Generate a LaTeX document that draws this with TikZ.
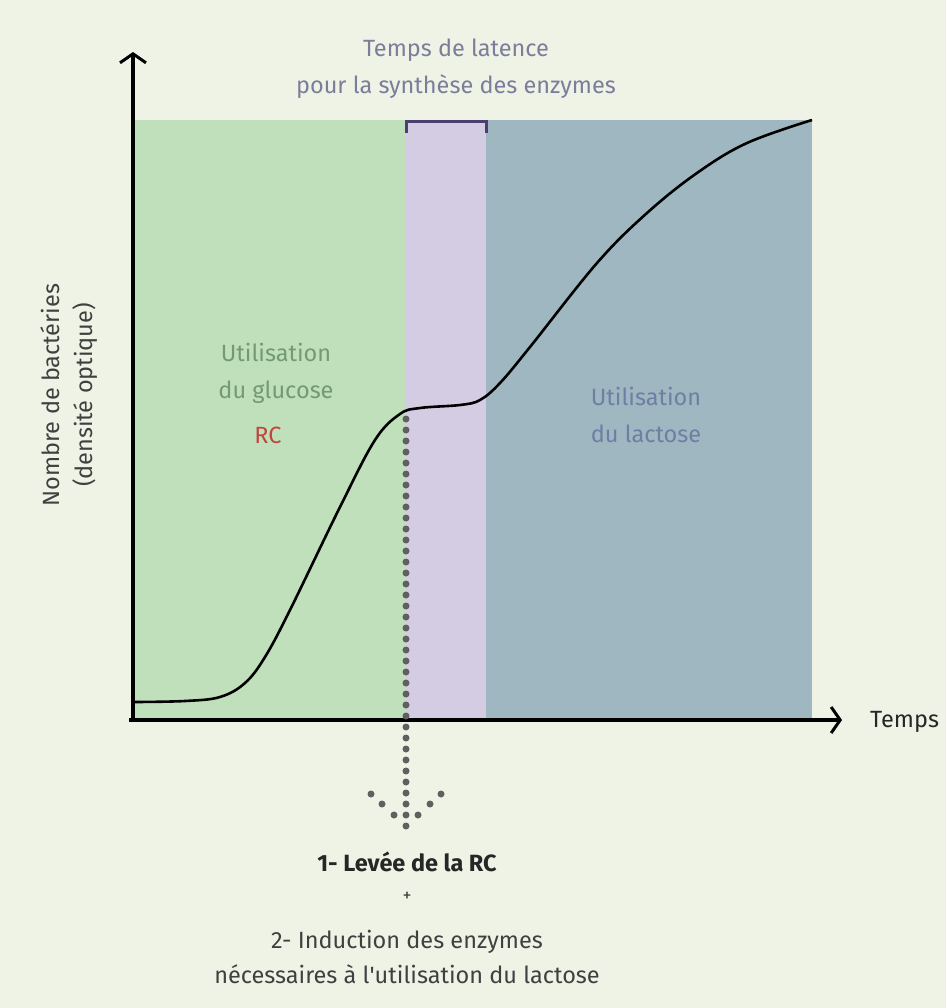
\documentclass[tikz,border=0pt]{standalone}
\usepackage{fontspec}
\setmainfont{Fira Sans}
\usepackage{tikz}
\usetikzlibrary{%
  arrows.meta,
  calc,
  positioning
}

\definecolor{bgcol}{HTML}{EEF3E6}
\definecolor{glucose}{HTML}{C0E0BC}
\definecolor{latence}{HTML}{D4CCE2}
\definecolor{lactose}{HTML}{9FB7C1}
\definecolor{bracketcol}{HTML}{4B3F72}
\definecolor{latencetxt}{HTML}{7D7D9B}
\definecolor{glucosetxt}{HTML}{739A72}
\definecolor{lactosetxt}{HTML}{6E7FA3}
\definecolor{rctxt}{HTML}{C0463C}
\definecolor{dotcol}{HTML}{606060}

\tikzset{
  lbl/.style={font=\fontsize{23.5}{37}\selectfont, align=center, inner sep=0pt},
  axis/.style={line width=4pt, -{Straight Barb[length=9pt,width=26pt,line width=3pt]}},
  dotline/.style={dotcol, line width=7pt, line cap=round, dash pattern=on 0pt off 11pt},
  dotmark/.style={fill=dotcol}
}

\begin{document}
\begin{tikzpicture}[x=1pt, y=-1pt]
  \fill [bgcol] (0,0) rectangle (946,1008) ;
  \useasboundingbox (0,0) rectangle (946,1008) ;

  % phases
  \fill [glucose] (133,120) rectangle (406,718) ;
  \fill [latence] (406,120) rectangle (486,718) ;
  \fill [lactose] (486,120) rectangle (812,718) ;

  % bracket of the lag time
  \draw [bracketcol, line width=3pt] (406,133) -- (406,121.5) -- (486,121.5) -- (486,133) ;

  % growth curve
  \draw [line width=2.6pt, line join=round] plot [smooth, tension=0.6] coordinates {
        (135,702) (185,701) (220,697) (245,683) (265,657) (290,610)
        (340,507) (375,440) (400,414) (420,408) (460,405) (480,400)
        (500,383) (530,347) (597,263) (647,213) (697,173) (747,143)
        (812,120) } ;

  \coordinate (plateau) at (406,418) ;
  \coordinate (tip) at (406,826) ;

  % axes
  \draw [axis] (133,722) -- (133,52) ;
  \draw [axis] (129,720) -- (842,720) ;

  % dotted arrow
  \draw [dotline] (tip) -- (plateau) ;
  \foreach \dx/\dy in {-35/-32, -24/-22, -12/-11, 12/-11, 24/-22, 35/-32}
    \fill [dotmark] ($(tip)+(\dx,\dy)$) circle [radius=3.5pt] ;

  % labels
  \node [lbl, text=latencetxt] (lat) at (456,69) {Temps de latence\\pour la synthèse des enzymes} ;
  \node [lbl, text=glucosetxt] (gluc) at (276,373) {Utilisation\\du glucose} ;
  \node [lbl, text=rctxt] (rc) at (268,435) {RC} ;
  \node [lbl, text=lactosetxt] (lact) at (646,415) {Utilisation\\du lactose} ;
  \node [lbl, text=black!85, anchor=west] (temps) at (870,722) {Temps} ;
  \node [lbl, text=black!75, rotate=90, font=\fontsize{23.5}{33}\selectfont] (ylab) at (69,395) {Nombre de bactéries\\(densité optique)} ;

  \node [lbl, text=black!85, font=\fontsize{23.5}{37}\selectfont\bfseries] (levee) at (407,862) {1- Levée de la RC} ;
  \node [lbl, text=black!75, font=\fontsize{18}{20}\selectfont] (plus) at (407,897) {+} ;
  \node [lbl, text=black!75, font=\fontsize{23.5}{35}\selectfont] (induc) at (407,957) {2- Induction des enzymes\\nécessaires à l\textquotesingle utilisation du lactose} ;

\end{tikzpicture}
\end{document}
